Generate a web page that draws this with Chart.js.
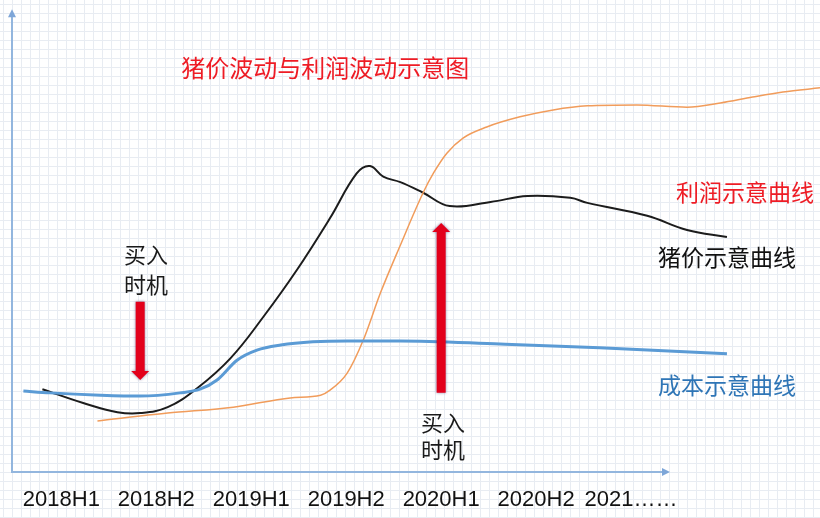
<!DOCTYPE html>
<html lang="zh">
<head>
<meta charset="utf-8">
<script src="https://cdn.jsdelivr.net/npm/chart.js@4.4.1/dist/chart.umd.min.js"></script>
<style>
    html, body { margin: 0; padding: 0; }
    body {
        width: 820px;
        height: 518px;
        overflow: hidden;
        background-color: #fff;
        background-image:
            linear-gradient(#e8ecf2 1px, transparent 1px),
            linear-gradient(90deg, #e8ecf2 1px, transparent 1px);
        background-size: 9px 9px;
        background-position: 3px 4px;
    }
    #wrap { position: relative; width: 820px; height: 518px; }
</style>
</head>
<body>
<div id="wrap"><canvas id="pigCycleChart"></canvas></div>
<script>
// x: half-year index (0 = 2018H1), y: schematic level (0 = x axis)
const tickLabels = ['2018H1', '2018H2', '2019H1', '2019H2', '2020H1', '2020H2', '2021……'];

const priceX = [-0.20, 0.23, 0.59, 0.83, 1.12, 1.43, 1.78, 2.13, 2.48, 2.83, 3.11, 3.25, 3.39, 3.57, 3.81, 4.09, 4.52, 4.91, 5.36, 5.54, 6.17, 6.59, 7.01];
const priceY = [18.0, 15.0, 13.0, 12.8, 14.1, 18.2, 24.7, 33.8, 43.9, 55.2, 64.9, 66.5, 64.2, 63.0, 60.7, 57.8, 58.7, 60.0, 59.6, 58.5, 55.7, 52.6, 51.1];

const costX = [-0.40, -0.12, 0.41, 0.83, 1.25, 1.46, 1.64, 1.85, 2.06, 2.31, 2.65, 3.01, 3.57, 4.62, 5.67, 7.01];
const costY = [17.6, 17.2, 16.7, 16.5, 17.2, 18.0, 20.0, 24.3, 26.5, 27.6, 28.3, 28.5, 28.5, 27.8, 27.0, 25.7];

const profitX = [0.38, 1.12, 1.81, 2.41, 2.73, 2.83, 3.01, 3.18, 3.36, 3.57, 3.81, 3.92, 4.06, 4.23, 4.48, 4.83, 5.18, 5.54, 6.06, 6.59, 6.94, 7.28, 7.60, 7.99];
const profitY = [11.1, 12.8, 14.1, 16.1, 16.7, 17.8, 21.5, 28.7, 38.9, 49.3, 60.7, 65.0, 69.3, 72.6, 75.0, 77.2, 78.7, 79.6, 79.8, 79.3, 80.2, 81.5, 82.6, 83.5];

// buy-timing arrows: x position, tail level, tip level
const arrowX = [0.83, 4.0];
const arrowTail = [37.0, 17.2];
const arrowTip = [20.0, 54.1];

const toPoints = (xs, ys) => xs.map((x, i) => ({ x, y: ys[i] }));

const cjk = '"Noto Sans CJK SC", "Noto Sans", sans-serif';

const notes = [
    { text: '猪价波动与利润波动示意图', x: 2.78, y: 87.8, color: '#ee1c25', size: 24 },
    { text: '利润示意曲线', x: 7.20, y: 60.9, color: '#ee1c25', size: 23 },
    { text: '猪价示意曲线', x: 7.01, y: 46.7, color: '#111111', size: 23 },
    { text: '成本示意曲线', x: 7.01, y: 18.9, color: '#2e75b6', size: 23 },
    { text: '买入', x: 0.89, y: 47.2, color: '#1a1a1a', size: 22 },
    { text: '时机', x: 0.89, y: 40.7, color: '#1a1a1a', size: 22 },
    { text: '买入', x: 4.02, y: 10.7, color: '#1a1a1a', size: 22 },
    { text: '时机', x: 4.02, y: 4.8, color: '#1a1a1a', size: 22 },
];

const sketchPlugin = {
    id: 'sketch',
    beforeDatasetsDraw(chart) {
        const { ctx, scales: { x, y } } = chart;
        const ox = x.left;
        const oy = y.getPixelForValue(0);
        const topY = y.getPixelForValue(100.6);
        const endX = x.getPixelForValue(6.41);

        ctx.save();
        ctx.strokeStyle = '#93b6de';
        ctx.fillStyle = '#7ea6d8';
        ctx.lineWidth = 2;
        ctx.beginPath();
        ctx.moveTo(ox, topY + 6);
        ctx.lineTo(ox, oy);
        ctx.lineTo(endX - 6, oy);
        ctx.stroke();

        ctx.beginPath();
        ctx.moveTo(ox, topY);
        ctx.lineTo(ox - 4, topY + 8);
        ctx.lineTo(ox + 4, topY + 8);
        ctx.closePath();
        ctx.fill();

        ctx.beginPath();
        ctx.moveTo(endX, oy);
        ctx.lineTo(endX - 8, oy - 4);
        ctx.lineTo(endX - 8, oy + 4);
        ctx.closePath();
        ctx.fill();
        ctx.restore();
    },
    afterDatasetsDraw(chart) {
        const { ctx, scales: { x, y } } = chart;
        ctx.save();

        // red arrows
        arrowX.forEach((ax, i) => {
            const px = x.getPixelForValue(ax);
            const tail = y.getPixelForValue(arrowTail[i]);
            const tip = y.getPixelForValue(arrowTip[i]);
            const dir = tip > tail ? 1 : -1;
            const headLen = 9;
            const shaft = 4.5;
            const head = 9;
            ctx.shadowColor = 'rgba(40, 20, 90, 0.55)';
            ctx.shadowBlur = 3;
            ctx.fillStyle = '#e3001b';
            ctx.beginPath();
            ctx.moveTo(px - shaft, tail);
            ctx.lineTo(px - shaft, tip - dir * headLen);
            ctx.lineTo(px - head, tip - dir * headLen);
            ctx.lineTo(px, tip);
            ctx.lineTo(px + head, tip - dir * headLen);
            ctx.lineTo(px + shaft, tip - dir * headLen);
            ctx.lineTo(px + shaft, tail);
            ctx.closePath();
            ctx.fill();
        });
        ctx.shadowColor = 'transparent';
        ctx.shadowBlur = 0;

        // text notes
        ctx.textAlign = 'center';
        ctx.textBaseline = 'middle';
        notes.forEach((n) => {
            ctx.font = `${n.size}px ${cjk}`;
            ctx.fillStyle = n.color;
            ctx.fillText(n.text, x.getPixelForValue(n.x), y.getPixelForValue(n.y));
        });
        ctx.restore();
    },
};

new Chart(document.getElementById('pigCycleChart'), {
    type: 'line',
    data: {
        datasets: [
            {
                label: '成本示意曲线',
                data: toPoints(costX, costY),
                borderColor: '#5b9bd5',
                borderWidth: 3,
                pointRadius: 0,
                cubicInterpolationMode: 'monotone',
            },
            {
                label: '利润示意曲线',
                data: toPoints(profitX, profitY),
                borderColor: '#f19c5b',
                borderWidth: 1.5,
                pointRadius: 0,
                cubicInterpolationMode: 'monotone',
            },
            {
                label: '猪价示意曲线',
                data: toPoints(priceX, priceY),
                borderColor: '#1c1c1c',
                borderWidth: 2,
                pointRadius: 0,
                tension: 0.4,
            },
        ],
    },
    options: {
        responsive: true,
        maintainAspectRatio: false,
        animation: false,
        layout: {
            padding: { left: 12, right: 0, top: 0, bottom: 0 },
        },
        plugins: {
            legend: { display: false },
            tooltip: { enabled: false },
        },
        scales: {
            x: {
                type: 'linear',
                min: -0.52,
                max: 7.99,
                grid: { display: false, drawTicks: false, tickLength: 0 },
                border: { display: false },
                afterBuildTicks: (scale) => {
                    scale.ticks = tickLabels.map((_, i) => ({ value: i }));
                },
                afterFit: (scale) => {
                    scale.height = 46;
                },
                ticks: {
                    autoSkip: false,
                    maxRotation: 0,
                    padding: 15,
                    color: '#111',
                    font: { size: 22, family: '"Liberation Sans", Arial, sans-serif' },
                    callback: (value, index) => tickLabels[index],
                },
            },
            y: {
                display: false,
                min: 0,
                max: 102.6,
            },
        },
    },
    plugins: [sketchPlugin],
});
</script>
</body>
</html>
